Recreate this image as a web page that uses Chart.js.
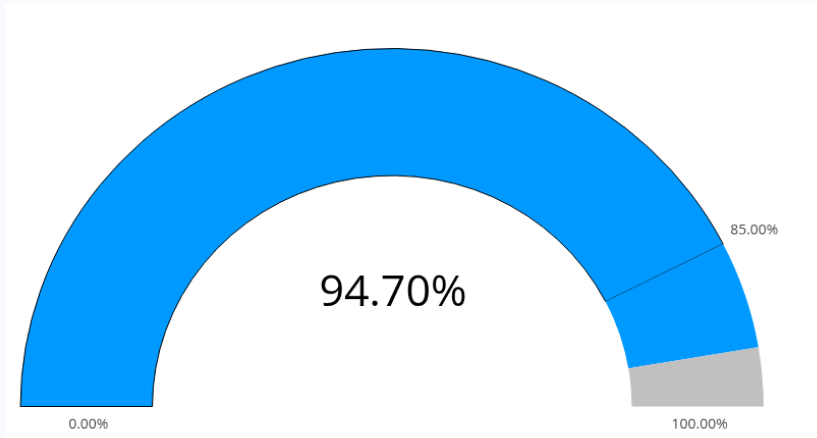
<!DOCTYPE html>
<html>
<head>
<meta charset="utf-8">
<script src="https://cdn.jsdelivr.net/npm/chart.js@4/dist/chart.umd.min.js"></script>
<style>
  html, body { margin: 0; padding: 0; background: #f8fafd; overflow: hidden; }
  #panel { position: absolute; left: 5px; top: 4px; width: 812px; height: 434px; background: #fff; }
  /* the gauge is drawn slightly wider than tall */
  #wrap { position: absolute; left: 0; top: 0; width: 817px; height: 438px;
          transform: scale(1.018, 0.981); transform-origin: 392px 407px; }
</style>
</head>
<body>
<div id="panel"></div>
<div id="wrap"><canvas id="gauge"></canvas></div>
<script>
// gauge reading and the band limits shown round the arc
var gaugeValue = 94.7;
var bandLimits = [0, 85, 100];
var tickLabels = ['0.00%', '85.00%', '100.00%'];
var valueLabel = '94.70%';

// slices: up to the first limit, from it to the reading, and the rest
var sliceValues = [
  bandLimits[1] - bandLimits[0],
  gaugeValue - bandLimits[1],
  bandLimits[2] - gaugeValue
];
var sliceColors = ['#0099ff', '#0099ff', '#c0c0c0'];

var gaugeText = {
  id: 'gaugeText',
  afterDatasetsDraw(chart) {
    var arc = chart.getDatasetMeta(0).data[0];
    var ctx = chart.ctx;
    var cx = arc.x, cy = arc.y;
    var ro = arc.outerRadius, ri = arc.innerRadius;
    var span = bandLimits[2] - bandLimits[0];
    ctx.save();

    // value in the middle
    ctx.fillStyle = '#000';
    ctx.font = '43px "Open Sans", sans-serif';
    ctx.textAlign = 'center';
    ctx.textBaseline = 'middle';
    ctx.fillText(valueLabel, cx + 1, cy - 115);

    ctx.fillStyle = '#4a4a4a';
    ctx.font = '14px "Open Sans", sans-serif';
    bandLimits.forEach(function(v, i) {
      var a = Math.PI * (1 - (v - bandLimits[0]) / span);
      if (i === 0 || i === bandLimits.length - 1) {
        // ends: under the middle of the ring
        var rm = (ro + ri) / 2;
        ctx.textAlign = 'center';
        ctx.textBaseline = 'top';
        ctx.fillText(tickLabels[i], cx + rm * Math.cos(a) + 2, cy + 12);
      } else {
        var r = ro + 10;
        ctx.textAlign = 'left';
        ctx.textBaseline = 'bottom';
        ctx.fillText(tickLabels[i], cx + r * Math.cos(a) - 2, cy - r * Math.sin(a) - 2);
      }
    });
    ctx.restore();
  }
};

window.gaugeChart = new Chart(
  document.getElementById('gauge'),
  {
    type: 'doughnut',
    data: {
      labels: tickLabels,
      datasets: [
        {
          data: sliceValues,
          backgroundColor: sliceColors,
          borderColor: '#000',
          borderWidth: [1, 0, 0],
          hoverOffset: 0
        }
      ]
    },
    options: {
      responsive: true,
      maintainAspectRatio: false,
      animation: false,
      rotation: -90,
      circumference: 180,
      cutout: '64.5%',
      layout: {
        padding: { left: 26, right: 59, top: 41, bottom: 31 }
      },
      plugins: {
        legend: { display: false },
        tooltip: { enabled: false }
      },
      events: []
    },
    plugins: [gaugeText]
  }
);
</script>
</body>
</html>
